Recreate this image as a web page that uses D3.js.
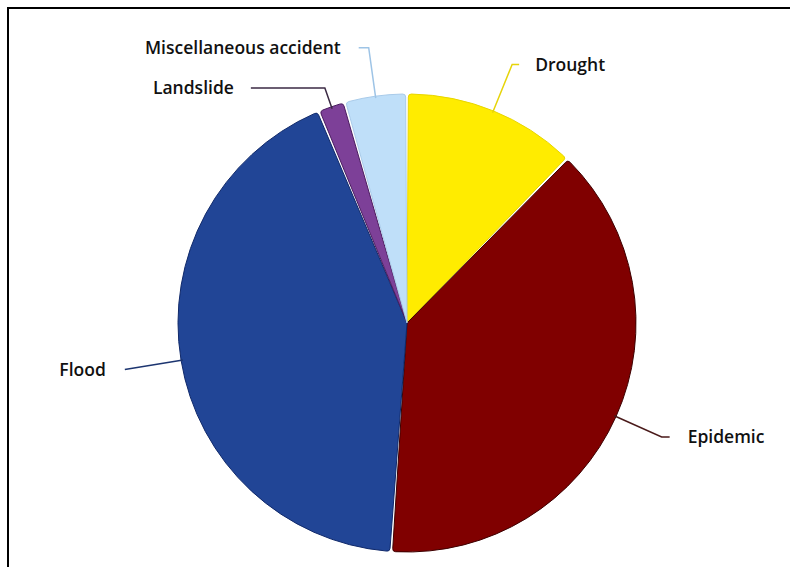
<!DOCTYPE html>
<html>
<head>
<meta charset="utf-8">
<script src="https://cdn.jsdelivr.net/npm/d3@7/dist/d3.min.js"></script>
<style>
  body { margin: 0; background: #fff; }
  text { font-family: 'Open Sans', sans-serif; font-size: 17.5px; font-weight: 600; fill: #111; }
</style>
</head>
<body>
<div id="chart"></div>
<script>
// Data (share of events, %)
const categories = ['Drought', 'Epidemic', 'Flood', 'Landslide', 'Miscellaneous accident']
const values = [12.3, 38.8, 42.6, 1.9, 4.4]
const colors = ['#ffec00', '#800000', '#214596', '#7d4098', '#bfdff9']
const edgeColors = ['#e8d600', '#3d0000', '#10296a', '#4a1d60', '#a9cbea']
const lineColors = ['#e6d40a', '#4a1a1a', '#1c3570', '#3b2a44', '#9ec4e6']

// Leader line layout: elbow radius, horizontal run, label gap
const leader = {
  Drought: { r: 279, run: 7, gap: 16 },
  Epidemic: { r: 279, run: 8, gap: 18 },
  Flood: { r: 286, run: 0, gap: 19 },
  Landslide: { r: 249, run: -74, gap: 17 },
  'Miscellaneous accident': { r: 278, run: -10, gap: 18 },
}

const width = 790
const height = 567
const cx = 407
const cy = 323
const radius = 229

const svg = d3
  .select('#chart')
  .append('svg')
  .attr('width', width)
  .attr('height', height)

// Frame (top and left edges visible)
svg
  .append('path')
  .attr('d', `M8,${height} L8,8 L${width},8`)
  .attr('fill', 'none')
  .attr('stroke', '#000')
  .attr('stroke-width', 2)

const data = categories.map((c, i) => ({ label: c, value: values[i], i }))

const pie = d3
  .pie()
  .sort(null)
  .value(d => d.value)
const arcs = pie(data)

const arc = d3
  .arc()
  .innerRadius(0)
  .outerRadius(radius)
  .padAngle(0.012)
  .padRadius(radius)
  .cornerRadius(3)

const g = svg.append('g').attr('transform', `translate(${cx},${cy})`)

g.selectAll('.slice')
  .data(arcs)
  .enter()
  .append('path')
  .attr('class', 'slice')
  .attr('d', arc)
  .attr('fill', d => colors[d.data.i])
  .attr('stroke', d => edgeColors[d.data.i])
  .attr('stroke-width', 1)

// Leader lines and labels
const polar = (a, r) => [Math.sin(a) * r, -Math.cos(a) * r]

arcs.forEach(d => {
  const mid = (d.startAngle + d.endAngle) / 2
  const cfg = leader[d.data.label]
  const p0 = polar(mid, radius - 2)
  const p1 = polar(mid, cfg.r)
  const p2 = [p1[0] + cfg.run, p1[1]]
  const right = Math.sin(mid) > 0

  g.append('polyline')
    .attr('points', [p0, p1, p2].map(p => p.join(',')).join(' '))
    .attr('fill', 'none')
    .attr('stroke', lineColors[d.data.i])
    .attr('stroke-width', 1.5)

  g.append('text')
    .attr('x', p2[0] + (right ? cfg.gap : -cfg.gap))
    .attr('y', p2[1])
    .attr('dy', '0.35em')
    .attr('text-anchor', right ? 'start' : 'end')
    .text(d.data.label)
})
</script>
</body>
</html>
